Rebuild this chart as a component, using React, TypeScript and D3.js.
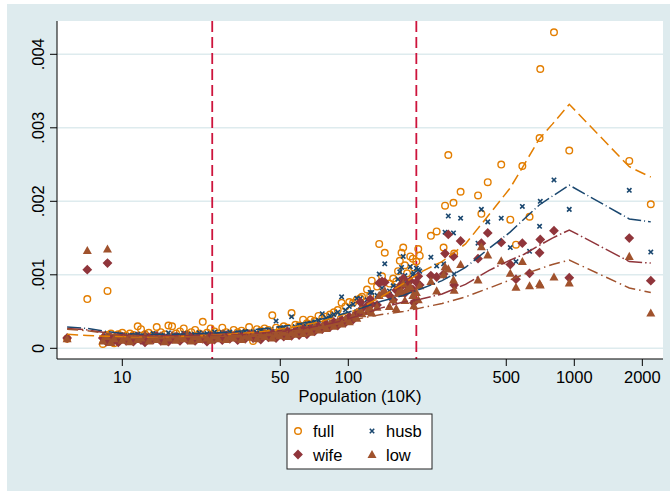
import React from "react";
import * as d3 from "d3";

// rates are stored in units of 1/10,000
const UNIT = 1e-4;

const cityPop = [
  5.7, 7.0, 8.6,
  8.2, 8.5, 8.9, 9.2, 9.6, 10.0, 10.4, 10.8, 11.2, 11.7, 12.1, 12.6, 13.1, 13.7, 14.2, 14.8, 15.4, 16.0, 16.6, 17.3,
  18.0, 18.7, 19.4, 20.2, 21.0, 21.9, 22.7, 23.7, 24.6, 25.6, 26.6, 27.7, 28.8, 29.9, 31.1, 32.4, 33.7, 35.0, 36.4,
  37.9, 39.4, 41.0, 42.6, 44.3, 46.1, 47.9, 49.8, 51.8, 53.9, 56.1, 58.3, 60.6, 63.1, 65.6, 68.2, 70.9, 73.8, 76.7,
  79.8, 83.0, 86.3, 89.8, 93.4, 97.1, 101, 105, 109,
  113, 115, 121, 125, 127, 134, 137, 141, 145, 152, 158, 163, 166, 169, 172, 175, 178, 182, 188, 193, 195, 200, 204, 207,
  232, 246, 264, 268, 277, 292, 294, 314, 375, 388, 414, 475, 521, 552, 589, 634, 702, 707, 813, 950, 1751, 2180,
];

const fullRate = [
  1.3, 6.7, 7.8,
  0.6, 1.8, 2.0, 0.7, 1.9, 2.1, 1.7, 2.0, 1.8, 3.0,
  2.6, 1.9, 2.1, 1.8, 2.9, 2.2, 1.9, 3.1, 3.0, 2.0,
  2.3, 2.7, 1.9, 2.2, 2.5, 2.0, 3.6, 2.1, 2.7, 2.3,
  2.0, 2.8, 2.2, 1.9, 2.5, 2.2, 2.4, 2.1, 2.9, 1.0,
  2.6, 2.4, 2.7, 2.5, 4.5, 2.8, 2.6, 3.0, 2.8, 4.8,
  3.2, 3.1, 3.9, 3.4, 3.9, 3.7, 4.4, 4.1, 4.3, 4.6,
  4.9, 5.2, 6.2, 5.7, 6.3, 6.2, 6.6,
  6.8, 7.0, 8.0, 7.2, 9.2, 8.4, 14.2, 9.8, 13.0, 8.8, 9.5, 9.1, 10.5, 11.9, 13.0, 13.7, 11.3, 10.2, 12.5, 12.2, 11.0, 11.8, 13.5, 12.6,
  15.3, 15.9, 13.7, 19.4, 26.3, 19.8, 12.9, 21.3, 20.8, 18.3, 22.6, 25.0, 17.5, 14.1, 24.8, 17.9, 28.6, 38.0, 43.0, 26.9, 25.5, 19.6,
];

const husbRate = [
  1.4, 10.7, 11.6,
  1.3, 1.7, 1.2, 1.6, 1.4, 1.8, 1.3, 1.7, 1.5, 1.9,
  1.4, 1.7, 1.6, 2.0, 1.5, 1.8, 1.6, 2.1, 1.5, 1.8,
  1.7, 2.0, 1.6, 1.9, 1.7, 2.1, 1.6, 2.0, 1.8, 2.2,
  1.7, 2.1, 1.9, 2.2, 1.8, 2.1, 2.0, 2.3, 1.9, 2.2,
  2.1, 2.4, 2.2, 2.5, 2.3, 3.7, 2.6, 2.8, 2.5, 4.3,
  2.9, 3.1, 3.0, 3.3, 3.4, 3.6, 3.8, 4.7, 4.1, 4.4,
  4.6, 4.9, 7.0, 5.2, 5.7, 6.0, 6.8,
  6.8, 6.0, 6.6, 7.6, 7.6, 7.2, 10.1, 8.2, 11.5, 7.8, 8.5, 8.3, 9.4, 10.4, 11.0, 12.5, 9.9, 9.2, 11.1, 10.0, 10.2, 10.9, 10.7, 10.5,
  12.4, 11.2, 11.5, 15.8, 18.0, 15.7, 10.1, 17.7, 14.3, 18.9, 17.2, 17.7, 13.7, 11.8, 19.3, 13.2, 16.6, 20.0, 22.9, 18.9, 21.5, 13.1,
];

const wifeRate = [
  1.4, 10.7, 11.6,
  1.4, 0.9, 1.5, 1.1, 0.8, 1.6, 1.0, 1.4, 0.9, 1.6,
  1.1, 0.8, 1.5, 1.2, 1.7, 1.0, 1.4, 0.9, 1.3, 1.6,
  1.0, 1.7, 1.2, 1.5, 1.0, 1.6, 1.3, 0.9, 1.7, 1.2,
  1.6, 1.1, 1.8, 1.3, 1.7, 1.1, 1.6, 1.3, 1.9, 1.4,
  1.7, 1.2, 1.9, 1.5, 2.0, 1.4, 2.1, 1.6, 2.3, 1.7,
  2.4, 1.8, 2.6, 1.9, 2.7, 2.3, 3.0, 2.6, 3.3, 2.9,
  3.6, 3.1, 3.9, 3.5, 4.3, 3.9, 4.8,
  6.3, 5.4, 5.8, 6.7, 6.0, 5.9, 8.9, 9.1, 9.0, 7.2, 6.6, 7.9, 7.9, 8.2, 8.7, 9.5, 7.5, 8.5, 9.2, 8.0, 6.2, 9.0, 9.8, 8.6,
  9.9, 9.7, 10.1, 12.9, 15.5, 12.5, 8.6, 14.6, 12.2, 14.3, 15.7, 14.4, 11.4, 9.4, 14.3, 10.2, 13.0, 14.8, 16.0, 9.6, 15.0, 9.2,
];

const lowRate = [
  1.3, 13.3, 13.5,
  1.0, 1.6, 0.8, 1.3, 1.8, 1.1, 1.5, 0.9, 1.7, 1.2,
  1.4, 1.9, 1.0, 1.5, 1.2, 1.7, 0.9, 1.4, 1.8, 1.1,
  1.5, 1.3, 1.9, 1.0, 1.6, 1.2, 1.8, 1.4, 1.1, 1.7,
  1.3, 2.0, 1.2, 1.6, 1.4, 1.9, 1.2, 1.7, 1.5, 2.0,
  1.3, 1.8, 1.6, 2.1, 1.4, 1.9, 1.7, 2.2, 1.6, 2.1,
  1.9, 2.5, 2.0, 2.6, 2.2, 2.9, 2.5, 3.1, 2.7, 3.4,
  3.0, 3.7, 3.3, 4.0, 3.6, 4.4, 4.1,
  5.2, 4.7, 5.0, 5.4, 4.8, 5.6, 7.2, 7.5, 7.8, 5.7, 6.6, 5.4, 7.5, 7.5, 7.8, 8.8, 6.5, 8.0, 8.4, 7.2, 5.8, 7.6, 6.6, 8.5,
  9.1, 7.8, 10.0, 11.1, 10.8, 9.3, 7.9, 11.4, 9.3, 13.8, 12.7, 11.9, 10.2, 8.3, 11.8, 8.5, 8.8, 8.6, 9.7, 8.9, 12.5, 4.8,
];

// fitted curves
const fitPop = [5.7, 7, 8.5, 10, 13, 17, 22, 30, 40, 55, 70, 90, 110, 140, 175, 210, 260, 330, 420, 520, 600, 700, 800, 950, 1751, 2180];
const fitFull = [1.9, 1.75, 1.65, 1.6, 1.55, 1.6, 1.7, 1.9, 2.2, 2.8, 3.4, 4.3, 5.3, 7.0, 8.8, 10.4, 11.8, 14.2, 18.2, 21.8, 25.0, 28.5, 30.5, 33.2, 24.7, 23.3];
const fitHusb = [2.9, 2.7, 2.3, 2.0, 1.9, 1.9, 2.0, 2.2, 2.6, 3.1, 3.7, 4.5, 5.3, 6.4, 7.2, 8.1, 9.2, 11.0, 13.6, 15.8, 17.6, 19.5, 20.7, 22.2, 17.6, 17.2];
const fitWife = [2.7, 2.5, 2.1, 1.8, 1.7, 1.7, 1.7, 1.8, 2.0, 2.4, 2.9, 3.6, 4.4, 5.5, 6.3, 6.7, 7.4, 8.7, 10.6, 12.0, 12.8, 14.0, 15.0, 16.1, 11.8, 11.6];
const fitLow = [2.6, 2.4, 2.0, 1.7, 1.6, 1.5, 1.6, 1.7, 1.9, 2.3, 2.7, 3.3, 4.0, 4.6, 5.0, 5.5, 6.1, 7.0, 8.2, 9.3, 10.1, 10.8, 11.4, 12.0, 8.2, 7.6];

const xTicks = [10, 50, 100, 500, 1000, 2000];
const xTickLabels = ["10", "50", "100", "500", "1000", "2000"];
const yTicks = [0, 0.001, 0.002, 0.003, 0.004];
const yTickLabels = ["0", ".001", ".002", ".003", ".004"];
const refLines = [25, 200];
const legendLabels = ["full", "husb", "wife", "low"];

const C = {
  bg: "rgb(222,235,238)",
  grid: "rgb(222,235,238)",
  full: "rgb(227,126,0)",
  husb: "rgb(26,71,111)",
  wife: "rgb(144,53,59)",
  low: "rgb(160,82,45)",
  ref: "rgb(205,20,60)",
};
const FONT = "'Liberation Sans', Arial, Helvetica, sans-serif";

const PL = 57, PR = 663, PT = 21, PB = 359;

const x = d3.scaleLog().domain([10, 1000]).range([122.3, 574.3]);
const y = d3.scaleLinear().domain([0, 0.004]).range([348.3, 54.3]);

function Circle({ cx, cy }: { cx: number; cy: number }) {
  return <circle cx={cx} cy={cy} r={3.3} fill="none" stroke={C.full} strokeWidth={1.4} />;
}
function Cross({ cx, cy }: { cx: number; cy: number }) {
  const s = 2.2;
  return (
    <path
      d={`M${cx - s},${cy - s}L${cx + s},${cy + s}M${cx - s},${cy + s}L${cx + s},${cy - s}`}
      stroke={C.husb}
      strokeWidth={1.6}
      fill="none"
    />
  );
}
function Diamond({ cx, cy }: { cx: number; cy: number }) {
  const s = 4.9;
  return <path d={`M${cx},${cy - s}L${cx + s},${cy}L${cx},${cy + s}L${cx - s},${cy}Z`} fill={C.wife} />;
}
function Triangle({ cx, cy }: { cx: number; cy: number }) {
  return (
    <path d={`M${cx},${cy - 4.6}L${cx + 4.5},${cy + 3.5}L${cx - 4.5},${cy + 3.5}Z`} fill={C.low} />
  );
}

export default function App() {
  const n = Math.min(cityPop.length, fullRate.length, husbRate.length, wifeRate.length, lowRate.length);
  const idx = d3.range(n);
  const line = d3
    .line<[number, number]>()
    .x((d) => x(d[0]))
    .y((d) => y(d[1] * UNIT));
  const fits = [
    { v: fitFull, c: C.full, dash: "11,5" },
    { v: fitHusb, c: C.husb, dash: "14,3,1,3" },
    { v: fitWife, c: C.wife, dash: "16,3,1.5,3" },
    { v: fitLow, c: C.low, dash: "11,4,1.5,4" },
  ];
  const legendPos = [
    { mx: 298, my: 431, tx: 313, ty: 437 },
    { mx: 372, my: 431, tx: 386, ty: 437 },
    { mx: 298, my: 454.5, tx: 313, ty: 460.5 },
    { mx: 372, my: 454.5, tx: 386, ty: 460.5 },
  ];
  const legendMarkers = [Circle, Cross, Diamond, Triangle];

  return (
    <svg
      width={670}
      height={491}
      style={{ position: "absolute", left: 0, top: 0, display: "block" }}
      fontFamily={FONT}
    >
      <rect x={0} y={0} width={670} height={491} fill="#fff" />
      <rect x={7} y={4} width={663} height={487} fill={C.bg} />
      <rect x={PL} y={PT} width={PR - PL} height={PB - PT} fill="#fff" />
      <defs>
        <clipPath id="plotclip">
          <rect x={PL} y={PT} width={PR - PL} height={PB - PT} />
        </clipPath>
      </defs>
      {yTicks.map((t) => (
        <line key={"g" + t} x1={PL} x2={PR} y1={y(t)} y2={y(t)} stroke={C.grid} strokeWidth={1.6} />
      ))}
      {refLines.map((r) => (
        <line
          key={"r" + r}
          x1={x(r)}
          x2={x(r)}
          y1={PT}
          y2={PB}
          stroke={C.ref}
          strokeWidth={1.8}
          strokeDasharray="11,5"
        />
      ))}
      <g clipPath="url(#plotclip)">
        {idx.map((i) => (
          <Circle key={"f" + i} cx={x(cityPop[i])} cy={y(fullRate[i] * UNIT)} />
        ))}
        {idx.map((i) => (
          <Cross key={"h" + i} cx={x(cityPop[i])} cy={y(husbRate[i] * UNIT)} />
        ))}
        {idx.map((i) => (
          <Diamond key={"w" + i} cx={x(cityPop[i])} cy={y(wifeRate[i] * UNIT)} />
        ))}
        {idx.map((i) => (
          <Triangle key={"l" + i} cx={x(cityPop[i])} cy={y(lowRate[i] * UNIT)} />
        ))}
        {fits.map((f, k) => (
          <path
            key={"fit" + k}
            d={line(fitPop.map((p, j) => [p, f.v[j]] as [number, number])) || ""}
            fill="none"
            stroke={f.c}
            strokeWidth={1.5}
            strokeDasharray={f.dash}
          />
        ))}
      </g>
      {/* axes */}
      <line x1={PL} x2={PL} y1={PT} y2={PB} stroke="#000" strokeWidth={1} />
      <line x1={PL} x2={PR} y1={PB} y2={PB} stroke="#000" strokeWidth={1} />
      {yTicks.map((t, i) => (
        <g key={"yt" + t}>
          <line x1={PL - 7} x2={PL} y1={y(t)} y2={y(t)} stroke="#000" strokeWidth={1} />
          <text
            transform={`translate(43.5,${y(t)}) rotate(-90)`}
            textAnchor="middle"
            fontSize={16.5}
            fill="#000"
          >
            {yTickLabels[i]}
          </text>
        </g>
      ))}
      {xTicks.map((t, i) => (
        <g key={"xt" + t}>
          <line x1={x(t)} x2={x(t)} y1={PB} y2={PB + 7} stroke="#000" strokeWidth={1} />
          <text x={x(t)} y={382.5} textAnchor="middle" fontSize={16.5} fill="#000">
            {xTickLabels[i]}
          </text>
        </g>
      ))}
      <text x={360} y={401.5} textAnchor="middle" fontSize={16.5} fill="#000">
        Population (10K)
      </text>
      {/* legend */}
      <rect x={287} y={414} width={145} height={55} fill="#fff" stroke="#222" strokeWidth={1} />
      {legendLabels.map((lab, i) => {
        const M = legendMarkers[i];
        const p = legendPos[i];
        return (
          <g key={"lg" + lab}>
            <M cx={p.mx} cy={p.my} />
            <text x={p.tx} y={p.ty} fontSize={16.5} fill="#000">
              {lab}
            </text>
          </g>
        );
      })}
    </svg>
  );
}
